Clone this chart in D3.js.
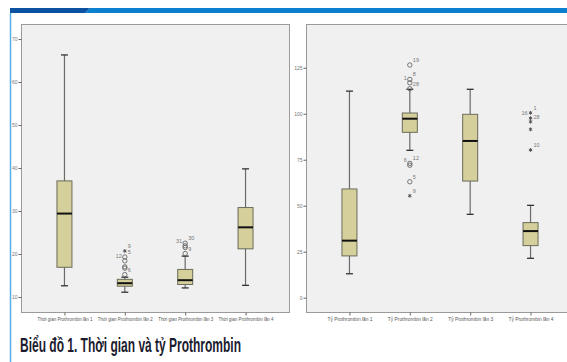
<!DOCTYPE html>
<html>
<head>
<meta charset="utf-8">
<script src="https://cdn.jsdelivr.net/npm/d3@7"></script>
<style>
  body { margin: 0; background: #fff; }
  svg { display: block; }
</style>
</head>
<body>
<svg id="chart" width="567" height="362"></svg>
<script>
// left panel: Thời gian Prothrombin (giây)
var timeCats = ["Thời gian Prothrombin lần 1", "Thời gian Prothrombin lần 2", "Thời gian Prothrombin lần 3", "Thời gian Prothrombin lần 4"];
var timeLow = [12.6, 11.1, 12.1, 12.7];
var timeQ1 = [16.9, 12.5, 12.9, 21.2];
var timeMed = [29.4, 13.2, 13.9, 26.2];
var timeQ3 = [37.0, 14.1, 16.4, 30.8];
var timeHigh = [66.3, 14.6, 19.5, 39.8];
var timeOutliers = [
  { cat: 1, v: 20.7, kind: "star", label: "9" },
  { cat: 1, v: 19.3, kind: "circle", label: "5" },
  { cat: 1, v: 18.4, kind: "circle", label: "12" },
  { cat: 1, v: 17.0, kind: "circle", label: "" },
  { cat: 1, v: 16.7, kind: "circle", label: "" },
  { cat: 1, v: 15.2, kind: "circle", label: "6" },
  { cat: 2, v: 22.5, kind: "circle", label: "30" },
  { cat: 2, v: 21.9, kind: "circle", label: "31" },
  { cat: 2, v: 21.5, kind: "circle", label: "" },
  { cat: 2, v: 20.1, kind: "circle", label: "9" }
];
var timeTicks = [10, 20, 30, 40, 50, 60, 70];

// right panel: Tỷ Prothrombin (%)
var ratioCats = ["Tỷ Prothrombin lần 1", "Tỷ Prothrombin lần 2", "Tỷ Prothrombin lần 3", "Tỷ Prothrombin lần 4"];
var ratioLow = [13.0, 80.1, 45.3, 21.4];
var ratioQ1 = [22.7, 89.9, 63.4, 28.3];
var ratioMed = [31.0, 97.3, 85.2, 36.2];
var ratioQ3 = [59.1, 100.4, 99.7, 40.8];
var ratioHigh = [112.3, 113.3, 113.3, 50.2];
var ratioOutliers = [
  { cat: 1, v: 126.5, kind: "circle", label: "19" },
  { cat: 1, v: 118.7, kind: "circle", label: "8" },
  { cat: 1, v: 116.8, kind: "circle", label: "1" },
  { cat: 1, v: 113.6, kind: "circle", label: "28" },
  { cat: 1, v: 73.0, kind: "circle", label: "12" },
  { cat: 1, v: 72.0, kind: "circle", label: "6" },
  { cat: 1, v: 63.0, kind: "circle", label: "5" },
  { cat: 1, v: 55.4, kind: "star", label: "9" },
  { cat: 3, v: 100.5, kind: "star", label: "1" },
  { cat: 3, v: 97.6, kind: "star", label: "16" },
  { cat: 3, v: 95.7, kind: "star", label: "28" },
  { cat: 3, v: 91.5, kind: "star", label: "" },
  { cat: 3, v: 80.3, kind: "star", label: "10" }
];
var ratioTicks = [0, 25, 50, 75, 100, 125];

var caption = "Biểu đồ 1. Thời gian và tỷ Prothrombin";

var svg = d3.select("#chart");
var narrow = "Liberation Sans Narrow, Arial Narrow, sans-serif";

// header band
svg.append("path")
  .attr("d", "M90,8 L567,8 L567,13 L85,13 Z")
  .attr("fill", "#0a80cf");
svg.append("path")
  .attr("d", "M10,8 L90,8 L85,13 L10,13 Z")
  .attr("fill", "#0b52a3");
svg.append("line")
  .attr("x1", 10.5).attr("x2", 10.5)
  .attr("y1", 13).attr("y2", 362)
  .attr("stroke", "#55b0e8")
  .attr("stroke-width", 1.5);

function drawPanel(opt) {
  var top = 24, bottom = 312;
  var g = svg.append("g");

  var x = d3.scalePoint()
    .domain(opt.cats)
    .range([opt.left, opt.left + 268])
    .padding(0.72);

  var y = d3.scaleLinear()
    .domain(opt.domain)
    .range([bottom, top]);

  g.append("rect")
    .attr("x", opt.left + 0.5)
    .attr("y", top + 0.5)
    .attr("width", opt.width)
    .attr("height", bottom - top)
    .attr("fill", "#f0f0f0")
    .attr("stroke", "#9a9a9a")
    .attr("stroke-width", 1);

  var yAxis = d3.axisLeft(y)
    .tickValues(opt.ticks)
    .tickSize(3)
    .tickPadding(1);
  var ya = g.append("g")
    .attr("transform", "translate(" + (opt.left + 0.5) + ",0)")
    .call(yAxis);
  ya.select(".domain").remove();
  ya.selectAll("line").attr("stroke", "#666");
  ya.selectAll("text")
    .attr("fill", "#777")
    .style("font-family", narrow)
    .style("font-size", "5px");

  var xAxis = d3.axisBottom(x).tickSize(3).tickPadding(2);
  var xa = g.append("g")
    .attr("transform", "translate(0," + (bottom + 0.5) + ")")
    .call(xAxis);
  xa.select(".domain").remove();
  xa.selectAll("line").attr("stroke", "#666");
  xa.selectAll("text")
    .attr("fill", "#555")
    .attr("textLength", opt.labelWidth)
    .attr("lengthAdjust", "spacingAndGlyphs")
    .style("font-family", narrow)
    .style("font-size", opt.labelSize);

  var rows = opt.cats.map(function (c, i) {
    return { cat: c, low: opt.low[i], q1: opt.q1[i], med: opt.med[i], q3: opt.q3[i], high: opt.high[i] };
  });
  var bw = 15, cap = 7;

  var box = g.selectAll(".box").data(rows).join("g").attr("class", "box");
  box.append("line")
    .attr("x1", function (d) { return x(d.cat); })
    .attr("x2", function (d) { return x(d.cat); })
    .attr("y1", function (d) { return y(d.high); })
    .attr("y2", function (d) { return y(d.low); })
    .attr("stroke", "#6a6a6a").attr("stroke-width", 1.2);
  box.selectAll(".cap")
    .data(function (d) { return [{ cat: d.cat, v: d.high }, { cat: d.cat, v: d.low }]; })
    .join("line")
    .attr("x1", function (d) { return x(d.cat) - cap / 2; })
    .attr("x2", function (d) { return x(d.cat) + cap / 2; })
    .attr("y1", function (d) { return y(d.v); })
    .attr("y2", function (d) { return y(d.v); })
    .attr("stroke", "#333").attr("stroke-width", 1.3);
  box.append("rect")
    .attr("x", function (d) { return x(d.cat) - bw / 2; })
    .attr("y", function (d) { return y(d.q3); })
    .attr("width", bw)
    .attr("height", function (d) { return y(d.q1) - y(d.q3); })
    .attr("fill", "#d5cf9b")
    .attr("stroke", "#6b6b5a").attr("stroke-width", 1);
  box.append("line")
    .attr("x1", function (d) { return x(d.cat) - bw / 2; })
    .attr("x2", function (d) { return x(d.cat) + bw / 2; })
    .attr("y1", function (d) { return y(d.med); })
    .attr("y2", function (d) { return y(d.med); })
    .attr("stroke", "#111").attr("stroke-width", 2);

  // labels of close outliers go alternately right / left
  var lastY = {}, lastSide = {};
  opt.outliers.forEach(function (d) {
    var py = y(d.v);
    var side = 1;
    if (d.label && lastY[d.cat] !== undefined && Math.abs(py - lastY[d.cat]) < 6 && lastSide[d.cat] === 1) side = -1;
    d.side = side;
    if (d.label) { lastY[d.cat] = py; lastSide[d.cat] = side; }
  });

  var out = g.selectAll(".out").data(opt.outliers).join("g").attr("class", "out")
    .attr("transform", function (d) { return "translate(" + x(opt.cats[d.cat]) + "," + y(d.v) + ")"; });
  out.filter(function (d) { return d.kind === "circle"; })
    .append("circle")
    .attr("r", 2.2)
    .attr("fill", "none")
    .attr("stroke", "#666").attr("stroke-width", 0.9);
  out.filter(function (d) { return d.kind === "star"; })
    .append("path")
    .attr("d", d3.symbol(d3.symbolAsterisk, 10))
    .attr("fill", "none")
    .attr("stroke", "#555").attr("stroke-width", 1);
  out.append("text")
    .attr("x", function (d) { return d.side * 3; })
    .attr("y", -3)
    .attr("text-anchor", function (d) { return d.side > 0 ? "start" : "end"; })
    .attr("fill", "#777")
    .style("font-family", narrow)
    .style("font-size", "5.5px")
    .text(function (d) { return d.label; });
}

drawPanel({
  left: 21, width: 268, cats: timeCats, domain: [6.5, 73.5], ticks: timeTicks,
  low: timeLow, q1: timeQ1, med: timeMed, q3: timeQ3, high: timeHigh,
  outliers: timeOutliers, labelWidth: 55, labelSize: "4.8px"
});
drawPanel({
  left: 306, width: 280, cats: ratioCats, domain: [-7.8, 148.8], ticks: ratioTicks,
  low: ratioLow, q1: ratioQ1, med: ratioMed, q3: ratioQ3, high: ratioHigh,
  outliers: ratioOutliers, labelWidth: 45, labelSize: "5.5px"
});

svg.append("text")
  .attr("x", 20)
  .attr("y", 352)
  .attr("textLength", 221)
  .attr("lengthAdjust", "spacingAndGlyphs")
  .attr("fill", "#1c1c2e")
  .style("font-family", narrow)
  .style("font-weight", "bold")
  .style("font-size", "20px")
  .text(caption);
</script>
</body>
</html>
